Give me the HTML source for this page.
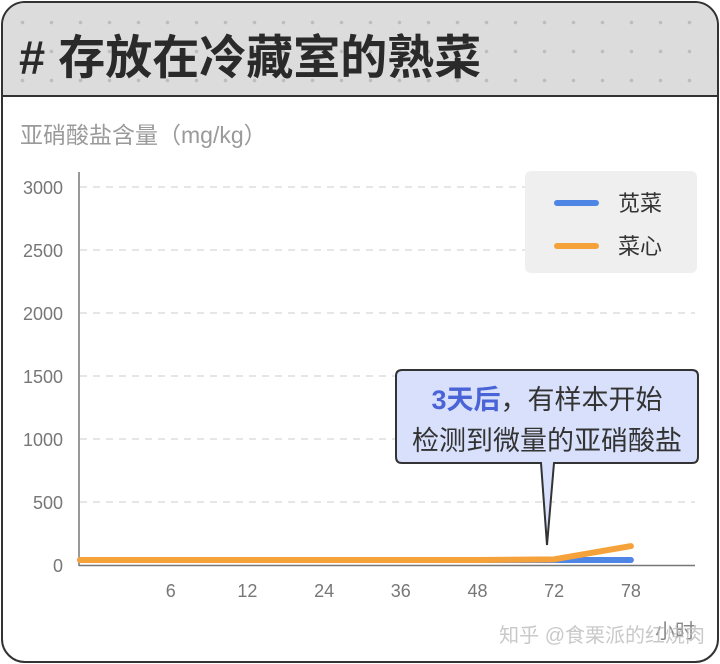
<!DOCTYPE html>
<html><head><meta charset="utf-8"><style>
body{margin:0;width:720px;height:664px;background:#fff;font-family:"Liberation Sans","Noto Sans CJK SC",sans-serif;overflow:hidden}
#card{position:absolute;left:1px;top:1px;width:714px;height:658px;border:2px solid #333;border-radius:24px;overflow:hidden;background:#fff}
#hdr{position:absolute;left:0;top:0;width:714px;height:92px;background-color:#dcdcdc;background-image:radial-gradient(#bdbdbd 1.6px,transparent 2px);background-size:29px 29px;background-position:5px 5px;border-bottom:2px solid #333}
#ttl{position:absolute;left:16px;top:16px;font-size:47px;font-weight:bold;color:#2a2a2a;letter-spacing:0px}
</style></head><body>
<div id="card">
<div id="hdr"><div id="ttl"># 存放在冷藏室的熟菜</div></div>
</div>
<svg id="c" width="720" height="664" style="position:absolute;left:0;top:0"></svg>
<script>
const categories=["0","6","12","24","36","48","72","78"];
const seriesA=[40,40,40,40,40,40,40,40];
const seriesB=[40,40,40,40,40,40,45,150];
const yTicks=[0,500,1000,1500,2000,2500,3000];
const svg=document.getElementById('c');const NS='http://www.w3.org/2000/svg';
function el(t,a,txt){const e=document.createElementNS(NS,t);for(const k in a)e.setAttribute(k,a[k]);if(txt!==undefined)e.textContent=txt;svg.appendChild(e);return e;}
const x=i=>94+i*76.7;const y=v=>565-v*(378/3000);
let t=el('text',{x:20,y:143,'font-size':23,fill:'#9a9a9a'},'亚硝酸盐含量（mg/kg）');


yTicks.forEach(v=>{
 if(v>0){let g=el('line',{x1:80,x2:695,y1:y(v),y2:y(v),stroke:'#d8d8d8','stroke-dasharray':'7 6','stroke-width':1.2});
 
 }
 let l=el('text',{x:63,y:y(v)+7,'text-anchor':'end','font-size':18,fill:'#777'},v);
 
 
});
let ax=el('line',{x1:79,x2:79,y1:172,y2:566,stroke:'#777','stroke-width':1.5});


let xa=el('line',{x1:79,x2:695,y1:565.5,y2:565.5,stroke:'#777','stroke-width':1.5});


categories.forEach((c,i)=>{if(i===0)return;
 let l=el('text',{x:x(i),y:597,'text-anchor':'middle','font-size':18,fill:'#777'},c);
 
 });
let xl=el('text',{x:695,y:638,'text-anchor':'end','font-size':20,fill:'#888'},'小时');


function line(d,col,name){let p=d.map((v,i)=>(i?'L':'M')+x(i)+','+y(v)).join(' ');p='M80,'+y(d[0])+p.replace('M','L');
 let e=el('path',{d:p,fill:'none',stroke:col,'stroke-width':6,'stroke-linecap':'round','stroke-linejoin':'round'});
 
 }
line(seriesA,'#4f86e6','series-amaranth');
line(seriesB,'#f6a23a','series-choy-sum');
let lg=el('rect',{x:525,y:171,width:172,height:102,rx:6,fill:'#efefef'});


[['苋菜','#4f86e6',203],['菜心','#f6a23a',246]].forEach(a=>{
 let s=el('line',{x1:557,x2:596,y1:a[2],y2:a[2],stroke:a[1],'stroke-width':6,'stroke-linecap':'round'});
 
 
 let tt=el('text',{x:618,y:a[2]+8,'font-size':22,fill:'#333'},a[0]);
 
 });
let co=el('path',{d:'M402,370 H692 Q698,370 698,376 V457 Q698,463 692,463 H554 L547,545 L541,463 H402 Q396,463 396,457 V376 Q396,370 402,370 Z',fill:'#d8e0fb',stroke:'#333','stroke-width':2});


let a1=el('text',{x:547,y:409,'text-anchor':'middle','font-size':27,fill:'#333'});


a1.innerHTML='<tspan fill="#4a63d6" font-weight="bold">3天后</tspan>，有样本开始';
let a2=el('text',{x:547,y:450,'text-anchor':'middle','font-size':27,fill:'#333'},'检测到微量的亚硝酸盐');


let wm=el('text',{x:705,y:642,'text-anchor':'end','font-size':20,fill:'#bbb','fill-opacity':0.8},'知乎 @食栗派的红烧肉');


</script>
</body></html>
